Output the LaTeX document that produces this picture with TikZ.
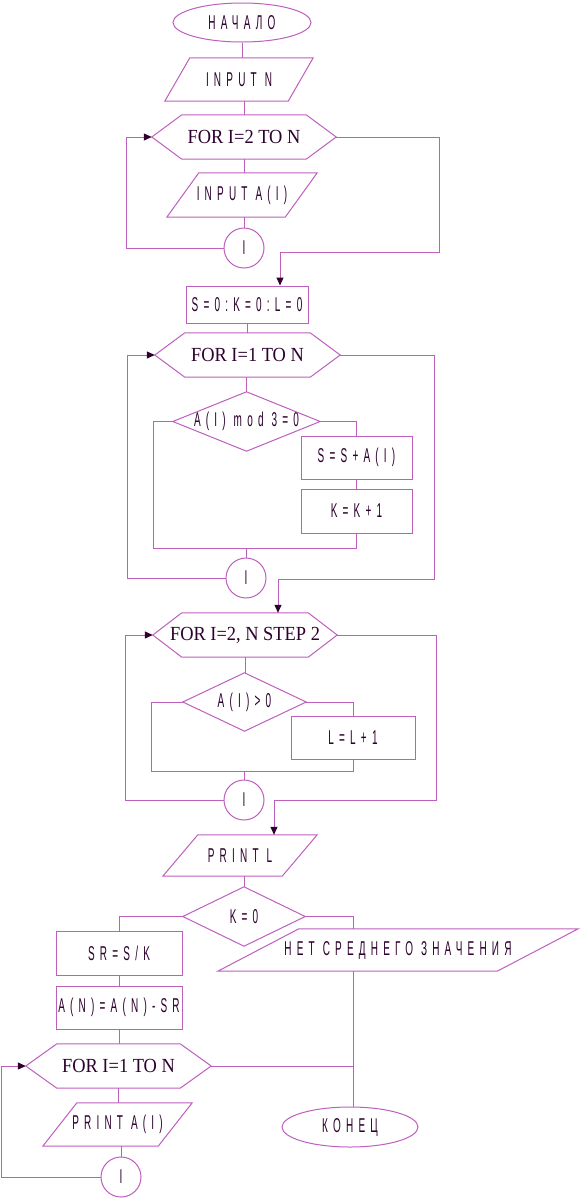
\documentclass[tikz,border=0pt]{standalone}
\usepackage{fontspec}
\usetikzlibrary{arrows.meta,calc,shapes.geometric}
\newfontfamily\condf[FakeStretch=0.5,LetterSpace=26]{Liberation Sans}
\newfontfamily\serf[FakeStretch=0.92]{Liberation Serif}
\definecolor{lc}{RGB}{190,95,190}
\definecolor{tc}{RGB}{45,0,45}
\tikzset{
  ln/.style={draw=lc,line width=1pt},
  arr/.style={ln,-{Triangle[length=8pt,width=7pt,color=tc]}},
  base/.style={inner sep=0pt,text=tc,font=\condf\fontsize{20}{22}\selectfont},
  rbox/.style={base,draw=lc,line width=1pt,rectangle},
  parn/.style={base,rectangle},
  dian/.style={base,rectangle},
  hexn/.style={base,rectangle,font=\serf\fontsize{20}{22}\selectfont},
  termn/.style={base,draw=lc,line width=1pt,ellipse},
  circn/.style={base,draw=lc,line width=1pt,circle,minimum size=40pt},
}
\newcommand\drawhex[2]{\draw[ln] (#1.west) -- ([xshift=#2]#1.north west) -- ([xshift=-#2]#1.north east) -- (#1.east) -- ([xshift=-#2]#1.south east) -- ([xshift=#2]#1.south west) -- cycle;}
\newcommand\drawpar[2]{\draw[ln] (#1.south west) -- ([xshift=#2]#1.north west) -- (#1.north east) -- ([xshift=-#2]#1.south east) -- cycle;}
\newcommand\drawdia[1]{\draw[ln] (#1.west) -- (#1.north) -- (#1.east) -- (#1.south) -- cycle;}
\begin{document}
\begin{tikzpicture}[x=1pt,y=-1pt]
\useasboundingbox[fill=white] (0,0) rectangle (580,1200);
% nodes
\node[termn,minimum width=138pt,minimum height=39pt] (start) at (242,22.5) {НАЧАЛО};
\node[parn,minimum width=148pt,minimum height=43pt] (in1) at (239,79.5) {INPUT N};
\node[hexn,minimum width=184pt,minimum height=44pt] (for1) at (244,137) {FOR I=2 TO N};
\node[parn,minimum width=150pt,minimum height=44pt] (in2) at (242,195) {INPUT A(I)};
\node[circn] (c1) at (244,248) {I};
\node[rbox,minimum width=122pt,minimum height=37pt] (init) at (247,304.5) {S=0:K=0:L=0};
\node[hexn,minimum width=185pt,minimum height=44pt] (for2) at (247.5,355) {FOR I=1 TO N};
\node[dian,minimum width=147pt,minimum height=59pt] (d1) at (246.5,421.5) {A(I) mod 3=0};
\node[rbox,minimum width=111pt,minimum height=43pt] (b1) at (356.5,457.5) {S=S+A(I)};
\node[rbox,minimum width=111pt,minimum height=44pt] (b2) at (356.5,511) {K=K+1};
\node[circn] (c2) at (246,578) {I};
\node[hexn,minimum width=184pt,minimum height=44pt] (for3) at (245,635) {FOR I=2, N STEP 2};
\node[dian,minimum width=123pt,minimum height=58pt] (d2) at (244.5,702) {A(I)>0};
\node[rbox,minimum width=124pt,minimum height=43pt] (b3) at (353,737.5) {L=L+1};
\node[circn] (c3) at (244,800) {I};
\node[parn,minimum width=154pt,minimum height=41pt] (pr1) at (240,855.5) {PRINT L};
\node[dian,minimum width=122pt,minimum height=59pt] (d3) at (244,916.5) {K=0};
\node[rbox,minimum width=126pt,minimum height=44pt] (b4) at (119,953) {SR=S/K};
\node[rbox,minimum width=126pt,minimum height=43pt] (b5) at (119,1007.5) {A(N)=A(N)-SR};
\node[parn,minimum width=360pt,minimum height=42pt] (pr2) at (398,950) {НЕТ СРЕДНЕГО ЗНАЧЕНИЯ};
\node[hexn,minimum width=185pt,minimum height=44pt] (for4) at (118.5,1066) {FOR I=1 TO N};
\node[parn,minimum width=149pt,minimum height=43pt] (pr3) at (117.5,1124.5) {PRINT A(I)};
\node[circn] (c4) at (121,1177) {I};
\node[termn,minimum width=136pt,minimum height=40pt] (end) at (350,1127) {КОНЕЦ};
% outlines
\drawpar{in1}{25}
\drawhex{for1}{30}
\drawpar{in2}{32}
\drawhex{for2}{30}
\drawdia{d1}
\drawhex{for3}{29}
\drawdia{d2}
\drawpar{pr1}{35}
\drawdia{d3}
\drawpar{pr2}{81}
\drawhex{for4}{31}
\drawpar{pr3}{34}
% corner coordinates
\coordinate (r1) at (439,252);
\coordinate (m1) at (153,548);
\coordinate (r2) at (434,579);
\coordinate (m2) at (151,771);
\coordinate (r3) at (436,800);
% connectors
\draw[ln] (start.south) -- (start.south |- in1.north);
\draw[ln] (for1.north |- in1.south) -- (for1.north);
\draw[ln] (for1.south) -- (for1.south |- in2.north);
\draw[ln] (c1.north |- in2.south) -- (c1.north);
\draw[arr] (c1.west) -- ++(-97,0) |- (for1.west);
\draw[arr] (for1.east) -| (r1) -| ([xshift=33pt]init.north);
\draw[ln] (init.south) -- (init.south |- for2.north);
\draw[ln] (d1.north |- for2.south) -- (d1.north);
\draw[ln] (d1.east) -| (b1.north);
\draw[ln] (b1.south) -- (b2.north);
\draw[ln] (b2.south) |- (m1) |- (d1.west);
\draw[ln] (c2.north |- m1) -- (c2.north);
\draw[arr] (c2.west) -- ++(-98,0) |- (for2.west);
\draw[arr] (for2.east) -| (r2) -| ([xshift=33pt]for3.north);
\draw[ln] (for3.south) -- (for3.south |- d2.north);
\draw[ln] (d2.east) -| (b3.north);
\draw[ln] (b3.south) |- (m2) |- (d2.west);
\draw[ln] (c3.north |- m2) -- (c3.north);
\draw[arr] (c3.west) -- ++(-98,0) |- (for3.west);
\draw[arr] (for3.east) -| (r3) -| ([xshift=34pt]pr1.north);
\draw[ln] (d3.north |- pr1.south) -- (d3.north);
\draw[ln] (d3.west) -| (b4.north);
\draw[ln] (b4.south) -- (b5.north);
\draw[ln] (d3.east) -| ([xshift=-45pt]pr2.north);
\draw[ln] ([xshift=-45pt]pr2.south) -- ([xshift=-45pt]pr2.south |- end.north);
\draw[ln] (b5.south) -- (b5.south |- for4.north);
\draw[ln] (for4.east) -- ([xshift=-45pt]pr2.south |- for4.east);
\draw[ln] (for4.south) -- (for4.south |- pr3.north);
\draw[ln] (c4.north |- pr3.south) -- (c4.north);
\draw[arr] (c4.west) -- ++(-99,0) |- (for4.west);
\end{tikzpicture}
\end{document}
